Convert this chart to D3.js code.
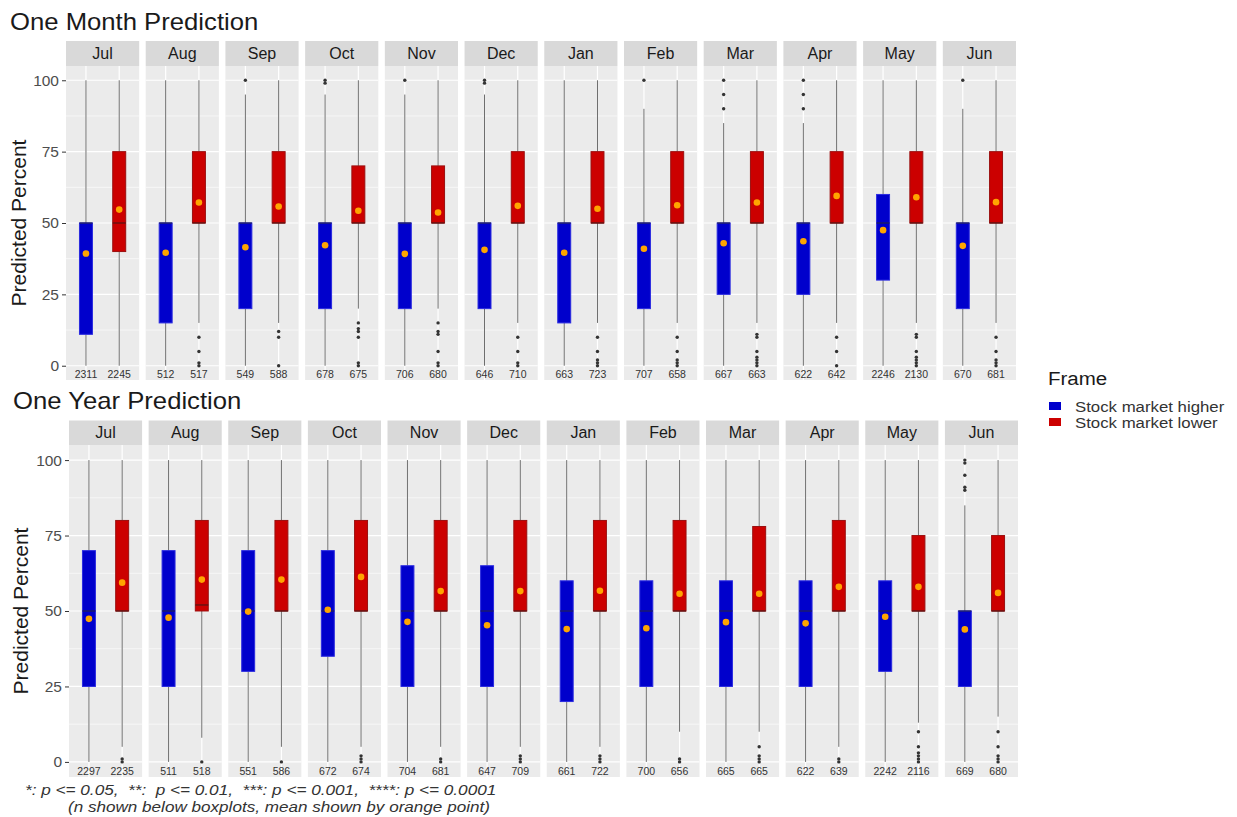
<!DOCTYPE html>
<html><head><meta charset="utf-8">
<script src="https://cdn.jsdelivr.net/npm/d3@7"></script>
<style>body{margin:0;background:#fff} svg{font-family:"Liberation Sans",Arial,Helvetica,sans-serif}</style>
</head><body>
<svg id="chart" width="1237" height="817"></svg>
<script>
// ---------- data ----------
const months = ["Jul","Aug","Sep","Oct","Nov","Dec","Jan","Feb","Mar","Apr","May","Jun"];
const frames = ["Stock market higher","Stock market lower"];
const frameColors = ["#0000CC","#CC0000"];
const yTicks = [0,25,50,75,100];

// One Month Prediction — [lower whisker, q1, median, q3, upper whisker]
const monthHigherBox = [[0,11,50,50,100],[0,15,50,50,100],[0,20,50,50,95],[0,20,50,50,95],[0,20,50,50,95],[0,20,50,50,95],
  [0,15,50,50,100],[0,20,50,50,90],[0,25,50,50,85],[0,25,50,50,85],[0,30,50,60,100],[0,20,50,50,90]];
const monthHigherMean = [39.3,39.6,41.5,42.2,39.2,40.6,39.6,41,42.9,43.6,47.5,42];
const monthHigherOut = [[],[],[100],[100,99],[100],[100,99],[],[100],[100,95,90],[100,95,90],[],[100]];
const monthHigherN = [2311,512,549,678,706,646,663,707,667,622,2246,670];

const monthLowerBox = [[0,40,50,75,100],[15,50,50,75,100],[15,50,50,75,100],[20,50,50,70,100],[20,50,50,70,100],[15,50,50,75,100],
  [15,50,50,75,100],[15,50,50,75,100],[15,50,50,75,100],[15,50,50,75,100],[15,50,50,75,100],[15,50,50,75,100]];
const monthLowerMean = [54.7,57.2,55.8,54.3,53.7,56,55,56.2,57.2,59.5,59,57.3];
const monthLowerOut = [[],[10,5,1,0],[12,10,0],[15,13,12,10,1,0],[15,12,11,5,1,0],[10,5,1,0],
  [10,5,2,1,0],[10,5,2,1,0],[11,10,5,3,2,1,0],[10,5,0],[11,10,5,3,2,1,0],[10,5,2,1,0]];
const monthLowerN = [2245,517,588,675,680,710,723,658,663,642,2130,681];

// One Year Prediction
const yearHigherBox = [[0,25,50,70,100],[0,25,50,70,100],[0,30,50,70,100],[0,35,50,70,100],[0,25,50,65,100],[0,25,50,65,100],
  [0,20,50,60,100],[0,25,50,60,100],[0,25,50,60,100],[0,25,50,60,100],[0,30,50,60,100],[0,25,50,50,85]];
const yearHigherMean = [47.4,47.8,49.8,50.4,46.4,45.3,44,44.3,46.3,45.9,48.1,43.9];
const yearHigherOut = [[],[],[],[],[],[],[],[],[],[],[],[100,99,95,91,90]];
const yearHigherN = [2297,511,551,672,704,647,661,700,665,622,2242,669];

const yearLowerBox = [[5,50,50,80,100],[8,50,52,80,100],[5,50,50,80,100],[5,50,50,80,100],[5,50,50,80,100],[5,50,50,80,100],
  [5,50,50,80,100],[10,50,50,80,100],[10,50,50,78,100],[5,50,50,80,100],[13,50,50,75,100],[15,50,50,75,100]];
const yearLowerMean = [59.4,60.4,60.4,61.3,56.6,56.6,56.7,55.7,55.7,58,58,56];
const yearLowerOut = [[1,0],[0],[0],[2,1,0],[1,0],[2,1,0],[2,1,0],[1,0],[5,2,1,0],[1,0],[10,5,3,2,1,0],[10,5,2,1,0]];
const yearLowerN = [2235,518,586,674,681,709,722,656,665,639,2116,680];

const footLine1 = "*: p <= 0.05,\u00A0 **:\u00A0 p <= 0.01,\u00A0 ***: p <= 0.001,\u00A0 ****: p <= 0.0001";
const footLine2 = "(n shown below boxplots, mean shown by orange point)";

// ---------- drawing ----------
const svg = d3.select("#chart");

function buildSeries(box, mean, out, n) {
  return months.map((m, i) => ({month: m, box: box[i], mean: mean[i], out: out[i], n: n[i]}));
}

function stretchedText(parent, x, y, sx, txt) {
  return parent.append("text").attr("transform", `translate(${x},${y}) scale(${sx},1)`).text(txt);
}

function drawBlock(cfg) {
  const g = svg.append("g");
  stretchedText(g, cfg.titleX, cfg.titleY, 1.07, cfg.title)
    .attr("font-size", 24).attr("fill", "#1a1a1a");

  const fx = d3.scaleBand().domain(months).range([cfg.x0, cfg.x1]).paddingInner(0.082).paddingOuter(0);
  const bw = fx.bandwidth();
  const xi = d3.scaleLinear().domain([0.4, 2.6]).range([0, bw]);
  const boxW = xi(1.39) - xi(1);
  const y = d3.scaleLinear().domain([-5, 105]).range([cfg.plotBottom, cfg.plotTop]);
  const series = [cfg.higher, cfg.lower];

  months.forEach((m, mi) => {
    const px = fx(m);
    const p = g.append("g").attr("transform", `translate(${px},0)`);
    // strip
    p.append("rect").attr("x", 0).attr("y", cfg.stripTop).attr("width", bw)
      .attr("height", cfg.plotTop - cfg.stripTop).attr("fill", "#D9D9D9");
    p.append("text").attr("x", bw / 2).attr("y", (cfg.stripTop + cfg.plotTop) / 2)
      .attr("text-anchor", "middle").attr("dominant-baseline", "central")
      .attr("font-size", 16).attr("fill", "#1a1a1a").text(m);
    // panel
    p.append("rect").attr("x", 0).attr("y", cfg.plotTop).attr("width", bw)
      .attr("height", cfg.plotBottom - cfg.plotTop).attr("fill", "#EBEBEB");
    const minor = [12.5, 37.5, 62.5, 87.5];
    p.selectAll(".gmin").data(minor).enter().append("line")
      .attr("x1", 0).attr("x2", bw).attr("y1", d => y(d)).attr("y2", d => y(d))
      .attr("stroke", "#fff").attr("stroke-width", 0.6);
    p.selectAll(".gmaj").data(yTicks).enter().append("line")
      .attr("x1", 0).attr("x2", bw).attr("y1", d => y(d)).attr("y2", d => y(d))
      .attr("stroke", "#fff").attr("stroke-width", 1.2);
    p.selectAll(".gx").data([1, 2]).enter().append("line")
      .attr("x1", d => xi(d)).attr("x2", d => xi(d)).attr("y1", cfg.plotTop).attr("y2", cfg.plotBottom)
      .attr("stroke", "#fff").attr("stroke-width", 1.2);

    series.forEach((s, si) => {
      const d = s[mi];
      const cx = xi(si + 1);
      const [lo, q1, med, q3, hi] = d.box;
      p.append("line").attr("x1", cx).attr("x2", cx).attr("y1", y(q3)).attr("y2", y(hi))
        .attr("stroke", "#6e6e6e").attr("stroke-width", 1);
      p.append("line").attr("x1", cx).attr("x2", cx).attr("y1", y(q1)).attr("y2", y(lo))
        .attr("stroke", "#6e6e6e").attr("stroke-width", 1);
      p.append("rect").attr("x", cx - boxW / 2).attr("y", y(q3)).attr("width", boxW)
        .attr("height", Math.max(0, y(q1) - y(q3))).attr("fill", frameColors[si])
        .attr("stroke", si === 0 ? "#2a2ae0" : "#9a1010").attr("stroke-width", 1);
      p.append("line").attr("x1", cx - boxW / 2).attr("x2", cx + boxW / 2)
        .attr("y1", y(med)).attr("y2", y(med))
        .attr("stroke", si === 0 ? "#20205a" : "#5a1515").attr("stroke-width", 1.6).attr("opacity", 0.8);
      p.selectAll(null).data(d.out).enter().append("circle")
        .attr("cx", cx).attr("cy", v => y(v)).attr("r", 1.7).attr("fill", "#333");
      p.append("circle").attr("cx", cx).attr("cy", y(d.mean)).attr("r", 3.3).attr("fill", "#FFA500");
      p.append("text").attr("x", cx).attr("y", y(-3)).attr("text-anchor", "middle")
        .attr("dominant-baseline", "central").attr("font-size", 10.5).attr("fill", "#333").text(d.n);
    });
  });

  // y axis
  const ax = g.append("g").attr("transform", `translate(${cfg.x0},0)`)
    .call(d3.axisLeft(y).tickValues(yTicks).tickSize(4).tickPadding(3));
  ax.select(".domain").remove();
  ax.selectAll(".tick line").attr("stroke", "#333");
  ax.selectAll(".tick text").attr("font-size", 15.5).attr("fill", "#4D4D4D")
    .attr("font-family", "Liberation Sans, Arial, sans-serif");

  g.append("text").attr("transform", `translate(${cfg.axisTitleX},${y(50)}) rotate(-90)`)
    .attr("text-anchor", "middle").attr("dominant-baseline", "central")
    .attr("font-size", 21).attr("fill", "#1a1a1a").text("Predicted Percent");
}

drawBlock({
  title: "One Month Prediction", titleX: 10, titleY: 30,
  stripTop: 41, plotTop: 66, plotBottom: 380, x0: 66, x1: 1016, axisTitleX: 18,
  higher: buildSeries(monthHigherBox, monthHigherMean, monthHigherOut, monthHigherN),
  lower: buildSeries(monthLowerBox, monthLowerMean, monthLowerOut, monthLowerN)
});
drawBlock({
  title: "One Year Prediction", titleX: 13, titleY: 409,
  stripTop: 420.5, plotTop: 445, plotBottom: 777, x0: 69, x1: 1018, axisTitleX: 20,
  higher: buildSeries(yearHigherBox, yearHigherMean, yearHigherOut, yearHigherN),
  lower: buildSeries(yearLowerBox, yearLowerMean, yearLowerOut, yearLowerN)
});

// legend
const lg = svg.append("g");
stretchedText(lg, 1048, 385, 1.08, "Frame").attr("font-size", 19).attr("fill", "#1a1a1a");
frames.forEach((f, i) => {
  lg.append("rect").attr("x", 1049).attr("y", 402 + i * 16).attr("width", 12).attr("height", 8)
    .attr("fill", frameColors[i]);
  stretchedText(lg, 1075, 411.5 + i * 16, 1.12, f).attr("font-size", 15).attr("fill", "#333");
});

// footnote
stretchedText(svg, 25, 795, 1.145, footLine1).attr("font-size", 15).attr("font-style", "italic")
  .attr("fill", "#333");
stretchedText(svg, 68, 812, 1.14, footLine2).attr("font-size", 15).attr("font-style", "italic")
  .attr("fill", "#333");
</script>
</body></html>
